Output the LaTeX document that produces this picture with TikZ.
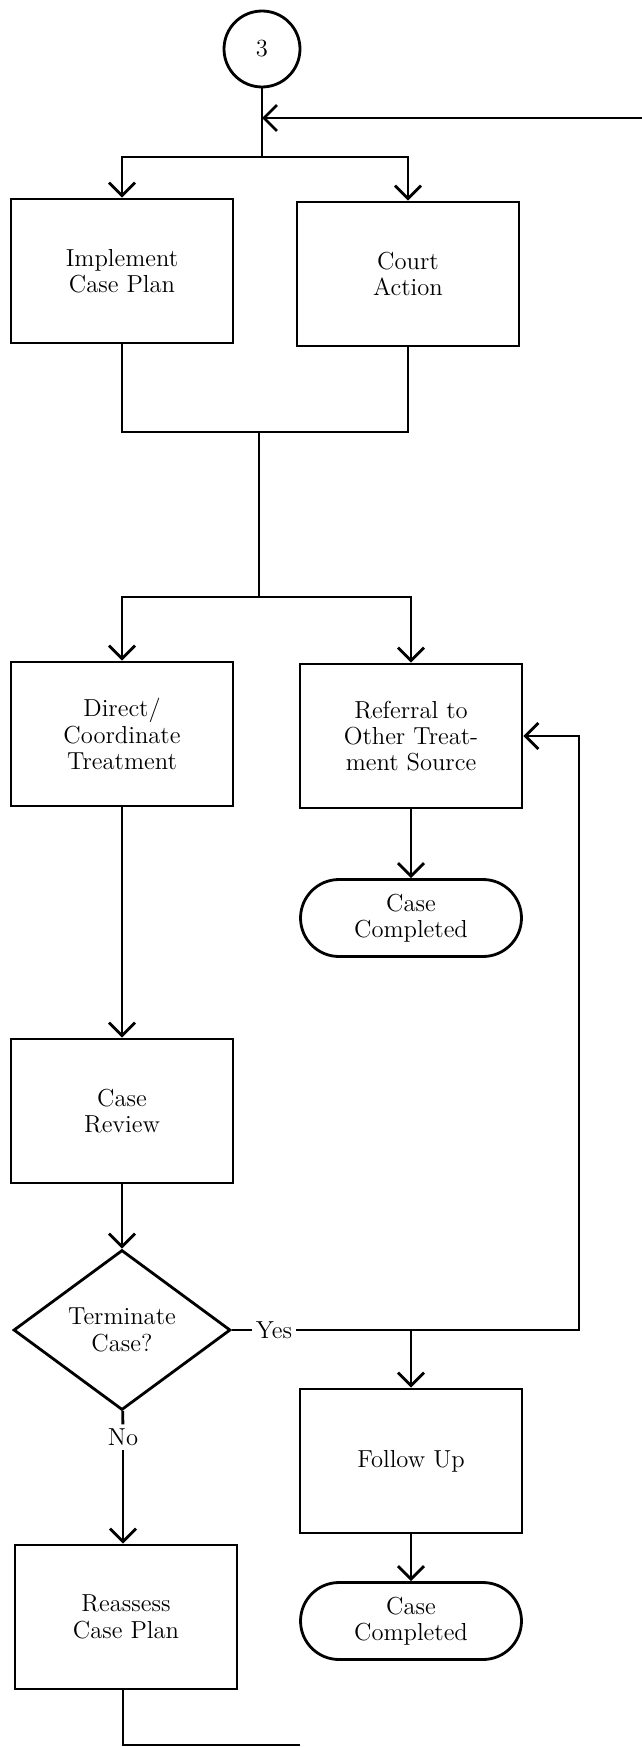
\documentclass[tikz,border=0pt]{standalone}
\usepackage{tikz}
\usetikzlibrary{arrows.meta,shapes}

\begin{document}
\begin{tikzpicture}[x=0.02cm,y=-0.02cm,>={Straight Barb[length=2.6mm,width=5.2mm]},line width=1.6pt]
  \tikzstyle{txt}=[font=\fontsize{14}{15}\selectfont,align=center]
  \tikzstyle{proc}=[rectangle,draw,txt,minimum width=4.44cm,minimum height=2.88cm]
  \tikzstyle{term}=[rectangle,draw,txt,rounded corners=0.77cm,minimum width=4.42cm,minimum height=1.54cm]
  \tikzstyle{dec}=[diamond,draw,txt,inner sep=0pt,minimum width=4.34cm,minimum height=3.2cm]
  \tikzstyle{conn}=[circle,draw,txt,minimum size=1.52cm]
  \tikzstyle{lbl}=[txt,inner sep=1.5pt]
  \useasboundingbox (0,0) rectangle (642,1747);
  % entry and loop back
  \node(conn-3) at (262,49)[conn]{3};
  \coordinate(loop-in) at (642,118);
  \coordinate(top-jn) at (262,118);
  \coordinate(split-a) at (262,157);
  \node(impl) at (122,271)[proc]{Implement\\Case Plan};
  \node(court) at (408,274)[proc]{Court\\Action};
  \draw(conn-3)--(split-a);
  \draw[->](loop-in)--(top-jn);
  \draw[->](split-a)-|(impl);
  \draw[->](split-a)-|(court);
  % merge and second split
  \coordinate(merge-a) at (259,432);
  \coordinate(split-b) at (259,597);
  \draw(impl)|-(merge-a);
  \draw(court)|-(merge-a);
  \draw(merge-a)--(split-b);
  \node(direct) at (122,734)[proc]{Direct/\\Coordinate\\Treatment};
  \node(referral) at (411,736)[proc]{Referral to\\Other Treat-\\ment Source};
  \draw[->](split-b)-|(direct);
  \draw[->](split-b)-|(referral);
  \node(done-a) at (411,918)[term]{Case\\Completed};
  \draw[->](referral)--(done-a);
  % review and decision
  \node(review) at (122,1111)[proc]{Case\\Review};
  \draw[->](direct)--(review);
  \node(decide) at (122,1330)[dec]{Terminate\\Case?};
  \draw[->](review)--(decide);
  \node(yes) at (274,1330)[lbl]{Yes};
  \coordinate(yes-jn) at (411,1330);
  \coordinate(yes-rt) at (579,1330);
  \draw(decide)--(yes);
  \draw[->](yes)--(yes-rt)|-(referral);
  \node(follow) at (411,1461)[proc]{Follow Up};
  \draw[->](yes-jn)--(follow);
  \node(done-b) at (411,1621)[term]{Case\\Completed};
  \draw[->](follow)--(done-b);
  \node(no) at (123,1437)[lbl]{No};
  \draw(decide)--(no);
  \node(reassess) at (126,1617)[proc]{Reassess\\Case Plan};
  \draw[->](no)--(no|-reassess.north);
  \coordinate(loop-out) at (300,1745);
  \draw(no|-reassess.south)|-(loop-out);
\end{tikzpicture}
\end{document}
